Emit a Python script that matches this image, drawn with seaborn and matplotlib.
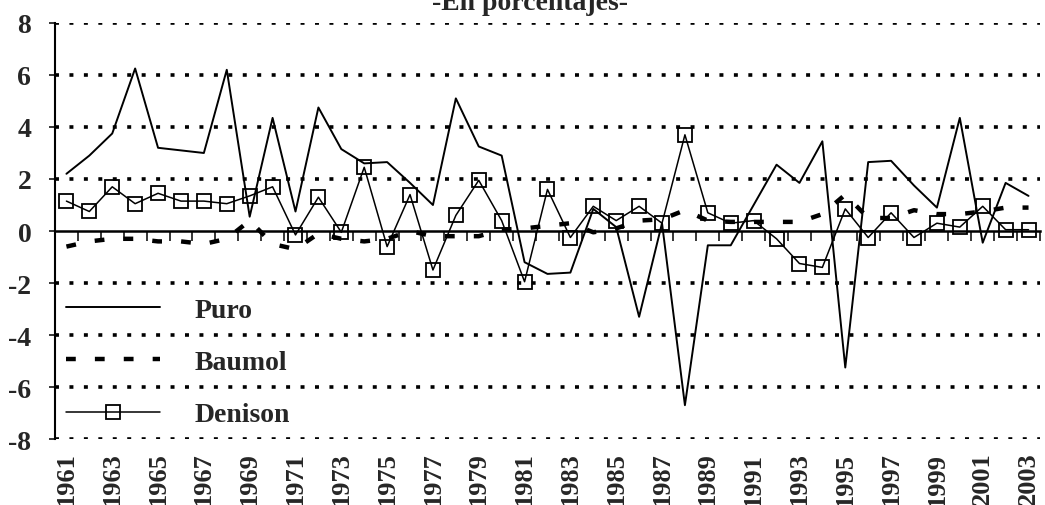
import numpy as np
import pandas as pd
import matplotlib
matplotlib.use("Agg")
import matplotlib.pyplot as plt
import seaborn as sns

# Data (percent)
years = list(range(1961, 2004))
puro = [2.2, 2.9, 3.75, 6.25, 3.2, 3.1, 3.0, 6.2, 0.55, 4.35,
        0.75, 4.75, 3.15, 2.6, 2.65, 1.85, 1.0, 5.1, 3.25, 2.9,
        -1.2, -1.65, -1.6, 0.85, 0.15, -3.3, 0.3, -6.7, -0.55, -0.55,
        1.0, 2.55, 1.85, 3.45, -5.25, 2.65, 2.7, 1.75, 0.9, 4.35,
        -0.45, 1.85, 1.35]
baumol = [-0.6, -0.4, -0.3, -0.3, -0.4, -0.4, -0.5, -0.3, 0.4, -0.5,
          -0.7, -0.1, -0.3, -0.4, -0.3, 0.0, -0.2, -0.2, -0.2, 0.05,
          0.1, 0.2, 0.3, -0.05, 0.1, 0.4, 0.45, 0.8, 0.4, 0.35,
          0.35, 0.35, 0.35, 0.65, 1.4, 0.5, 0.5, 0.8, 0.65, 0.65,
          0.75, 0.9, 0.9]
denison = [1.15, 0.75, 1.7, 1.05, 1.45, 1.15, 1.15, 1.05, 1.35, 1.7,
           -0.15, 1.3, -0.05, 2.45, -0.6, 1.4, -1.5, 0.6, 1.95, 0.4,
           -1.95, 1.6, -0.25, 0.95, 0.4, 0.95, 0.3, 3.7, 0.7, 0.3,
           0.4, -0.3, -1.25, -1.4, 0.85, -0.25, 0.7, -0.25, 0.3, 0.15,
           0.95, 0.05, 0.05]
series_names = ["Puro", "Baumol", "Denison"]

df = pd.DataFrame({"year": years, "Puro": puro, "Baumol": baumol, "Denison": denison})

sns.set_style("white")
plt.rcParams["font.family"] = ["Liberation Serif", "DejaVu Serif"]
plt.rcParams["font.weight"] = "bold"
plt.rcParams["axes.unicode_minus"] = False

fig = plt.figure(figsize=(10.45, 5.06), dpi=100)
ax = fig.add_axes([0.0526, 0.1304, 0.9426, 0.8222])

grid_style = dict(color="black", lw=2.6, linestyle=(0, (1.1, 2.9)))

sns.lineplot(data=df, x="year", y="Baumol", ax=ax, color="black", lw=3.2,
             linestyle=(0, (2.2, 4.3)), label=series_names[1])
sns.lineplot(data=df, x="year", y="Puro", ax=ax, color="black", lw=1.4,
             label=series_names[0])
sns.lineplot(data=df, x="year", y="Denison", ax=ax, color="black", lw=1.1,
             marker="s", markersize=10, markerfacecolor="none",
             markeredgecolor="black", markeredgewidth=1.3, label=series_names[2])

ax.set_xlim(1960.5, 2003.5)
ax.set_ylim(-8, 8)
ax.set_xlabel("")
ax.set_ylabel("")

# horizontal dotted grid
ax.set_yticks(np.arange(-8, 9, 2))
for v in np.arange(-8, 9, 2):
    if v != 0:
        ax.axhline(v, zorder=0, **grid_style)

ax.tick_params(axis="y", direction="out", length=4, width=1.3, pad=13,
               labelsize=20, left=True)
ax.set_xticks(years[::2])
ax.set_xticklabels([str(y) for y in years[::2]], rotation=90)
ax.tick_params(axis="x", length=0, pad=9, labelsize=19)
for lab in ax.get_xticklabels() + ax.get_yticklabels():
    lab.set_fontweight("bold")

for s in ["top", "right", "bottom"]:
    ax.spines[s].set_visible(False)
ax.spines["left"].set_color("black")
ax.spines["left"].set_linewidth(1.5)

# zero axis with category boundary ticks
sec = ax.secondary_xaxis(0.5)
sec.set_alignment("bottom")
sec.set_xticks([y - 0.5 for y in years] + [years[-1] + 0.5])
sec.set_xticklabels([])
sec.tick_params(axis="x", direction="out", length=7, width=1.3)
sec.spines["bottom"].set_linewidth(1.8)
sec.spines["bottom"].set_color("black")

# legend order: Puro, Baumol, Denison
handles, labels = ax.get_legend_handles_labels()
order = [labels.index(n) for n in series_names]
leg = ax.legend([handles[i] for i in order], [labels[i] for i in order],
                loc="lower left", bbox_to_anchor=(-0.006, -0.012), frameon=False,
                prop={"family": "Liberation Serif", "weight": "bold", "size": 20},
                handlelength=3.4, handletextpad=1.25, labelspacing=0.97,
                borderaxespad=0.2)

fig.text(0.507, 1 - 10 / 506, "-En porcentajes-", ha="center", va="baseline",
         fontsize=20, fontweight="bold")

fig.savefig("out.png", dpi=100)
